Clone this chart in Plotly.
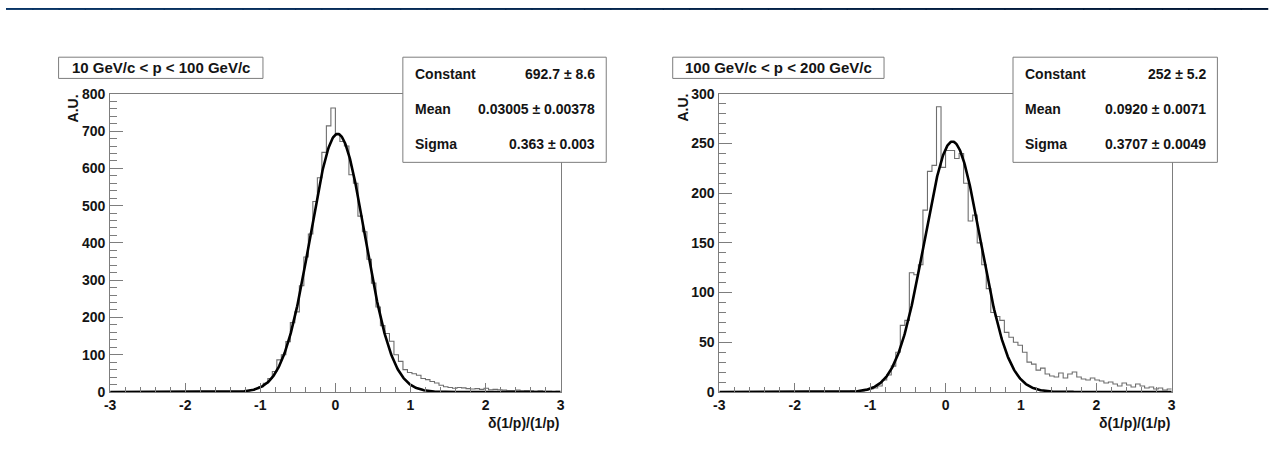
import numpy as np
import plotly.graph_objects as go

# ---------------------------------------------------------------------------
# Data: momentum-resolution histograms, 100 bins of width 0.06 on [-3, 3]
# ---------------------------------------------------------------------------
bin_edges = np.linspace(-3.0, 3.0, 101)

counts_low_p = [
    0, 0, 0, 0, 0, 0, 0, 0, 0, 0,
    0, 0, 0, 0, 0, 0, 0, 0, 0, 0,
    0, 0, 0, 0, 0, 1, 0, 1, 1, 2,
    3, 5, 9, 14, 23, 36, 55, 86, 100, 135,
    186, 215, 285, 362, 424, 511, 575, 643, 714, 762,
    690, 672, 660, 583, 560, 472, 430, 356, 292, 228,
    178, 157, 136, 100, 82, 60, 52, 49, 45, 36,
    33, 28, 24, 18, 14, 12, 10, 12, 11, 9,
    8, 9, 7, 10, 6, 7, 6, 5, 4, 4,
    5, 3, 4, 3, 2, 3, 2, 2, 1, 2,
]

counts_high_p = [
    0, 0, 0, 0, 0, 0, 0, 0, 0, 0,
    0, 0, 0, 0, 0, 0, 0, 0, 0, 0,
    0, 0, 0, 0, 0, 0, 0, 0, 0, 1,
    0, 1, 2, 3, 4, 6, 12, 17, 26, 40,
    67, 72, 120, 118, 128, 183, 222, 228, 287, 226,
    243, 243, 235, 240, 210, 172, 178, 150, 128, 104,
    80, 76, 72, 60, 55, 50, 47, 40, 30, 28,
    22, 24, 18, 16, 15, 19, 14, 18, 20, 15,
    13, 12, 14, 12, 11, 9, 10, 8, 6, 9,
    7, 5, 8, 6, 4, 5, 3, 4, 2, 3,
]

# Gaussian fit results (constant, mean, sigma) with errors
fit_low_p = {"const": 692.7, "const_err": 8.6,
             "mean": 0.03005, "mean_err": 0.00378,
             "sigma": 0.363, "sigma_err": 0.003}
fit_high_p = {"const": 252.0, "const_err": 5.2,
              "mean": 0.0920, "mean_err": 0.0071,
              "sigma": 0.3707, "sigma_err": 0.0049}

fit_text_low_p = ["692.7 ± 8.6", "0.03005 ± 0.00378", "0.363 ± 0.003"]
fit_text_high_p = ["252 ± 5.2", "0.0920 ± 0.0071", "0.3707 ± 0.0049"]
fit_names = ["Constant", "Mean", "Sigma"]

titles = ["10 GeV/c < p < 100 GeV/c", "100 GeV/c < p < 200 GeV/c"]
x_title = "δ(1/p)/(1/p)"
y_title = "A.U."

x_tick_vals = [-3, -2, -1, 0, 1, 2, 3]
x_tick_text = ["-3", "-2", "-1", "0", "1", "2", "3"]
y_ticks_low_p = [0, 100, 200, 300, 400, 500, 600, 700, 800]
y_ticks_high_p = [0, 50, 100, 150, 200, 250, 300]

# ---------------------------------------------------------------------------
# Page geometry: positions are given in page pixels; the page body keeps an
# 8 px margin around the figure, so the figure itself is 16 px smaller.
# ---------------------------------------------------------------------------
PAGE_W, PAGE_H = 1287, 469
PAD = 8
W, H = PAGE_W - 2 * PAD, PAGE_H - 2 * PAD


def fx(px):
    return (px - PAD) / W


def fy(py):
    return 1 - (py - PAD) / H


FONT = "Liberation Sans, Arial, Helvetica, sans-serif"
TXT = "#141414"
FRAME = "#7d7d7d"

panels = [
    dict(counts=counts_low_p, fit=fit_low_p, fit_text=fit_text_low_p,
         title=titles[0], yticks=y_ticks_low_p, ymax=800, yminor=20,
         frame=(113, 567), title_box=(61, 267), stats_box=(408, 613),
         ytitle_x=75),
    dict(counts=counts_high_p, fit=fit_high_p, fit_text=fit_text_high_p,
         title=titles[1], yticks=y_ticks_high_p, ymax=300, yminor=10,
         frame=(727, 1183), title_box=(680, 893), stats_box=(1023, 1229),
         ytitle_x=690),
]

FRAME_TOP, FRAME_BOTTOM = 97, 406

fig = go.Figure()
shapes = []
annotations = []

# dark blue slide band along the top, shaded left to right
n_strips = 48
c_left = np.array([8, 52, 102])
c_right = np.array([1, 22, 52])
for i in range(n_strips):
    t = i / (n_strips - 1)
    c = (1 - t) * c_left + t * c_right
    shapes.append(dict(type="rect", xref="paper", yref="paper",
                       x0=i / n_strips, x1=(i + 1) / n_strips + 0.001,
                       y0=fy(10), y1=1.0, line=dict(width=0),
                       fillcolor="rgb(%d,%d,%d)" % tuple(c.astype(int)),
                       layer="above"))

xc = np.linspace(-3.0, 3.0, 801)

for k, p in enumerate(panels, start=1):
    xa = "x" if k == 1 else "x%d" % k
    ya = "y" if k == 1 else "y%d" % k
    xname = "xaxis" if k == 1 else "xaxis%d" % k
    yname = "yaxis" if k == 1 else "yaxis%d" % k

    counts = list(p["counts"])
    # step outline of the histogram
    fig.add_trace(go.Scatter(
        x=bin_edges, y=counts + [counts[-1]], mode="lines",
        line=dict(color="#6e6e6e", width=1.1, shape="hv"),
        xaxis=xa, yaxis=ya, showlegend=False, hoverinfo="skip"))

    f = p["fit"]
    yc = f["const"] * np.exp(-0.5 * ((xc - f["mean"]) / f["sigma"]) ** 2)
    fig.add_trace(go.Scatter(
        x=xc, y=yc, mode="lines", line=dict(color="#000000", width=2.6),
        xaxis=xa, yaxis=ya, showlegend=False, hoverinfo="skip"))

    x0, x1 = p["frame"]
    fig.layout[xname] = dict(
        domain=[fx(x0), fx(x1)], range=[-3, 3], anchor=ya,
        showgrid=False, zeroline=False, showline=True, mirror=True,
        linecolor=FRAME, linewidth=1,
        ticks="inside", ticklen=9, tickwidth=1, tickcolor=FRAME,
        tickmode="array", tickvals=x_tick_vals, ticktext=x_tick_text,
        tickfont=dict(family=FONT, size=14, color=TXT, weight="bold"),
        minor=dict(ticks="inside", ticklen=5, tickcolor=FRAME, tickwidth=1,
                   tickmode="array",
                   tickvals=[round(-3 + 0.2 * i, 2) for i in range(31)],
                   showgrid=False),
        fixedrange=True,
    )
    fig.layout[yname] = dict(
        domain=[fy(FRAME_BOTTOM), fy(FRAME_TOP)], range=[0, p["ymax"]],
        anchor=xa, showgrid=False, zeroline=False, showline=True,
        mirror=True, linecolor=FRAME, linewidth=1,
        ticks="inside", ticklen=13, tickwidth=1, tickcolor=FRAME,
        tickmode="array", tickvals=p["yticks"],
        ticktext=[str(v) for v in p["yticks"]],
        tickfont=dict(family=FONT, size=14, color=TXT, weight="bold"),
        ticklabelstandoff=1,
        minor=dict(ticks="inside", ticklen=7, tickcolor=FRAME, tickwidth=1,
                   tickmode="array",
                   tickvals=list(range(0, p["ymax"] + 1, p["yminor"])),
                   showgrid=False),
        fixedrange=True,
    )

    # title box
    tb0, tb1 = p["title_box"]
    shapes.append(dict(type="rect", xref="paper", yref="paper",
                       x0=fx(tb0), x1=fx(tb1), y0=fy(81), y1=fy(59),
                       line=dict(color=FRAME, width=1), fillcolor="white",
                       layer="above"))
    annotations.append(dict(xref="paper", yref="paper",
                            x=fx((tb0 + tb1) / 2), y=fy(70), text=p["title"],
                            showarrow=False, xanchor="center", yanchor="middle",
                            font=dict(family=FONT, size=15, color=TXT,
                                      weight="bold")))

    # fit statistics box
    sb0, sb1 = p["stats_box"]
    shapes.append(dict(type="rect", xref="paper", yref="paper",
                       x0=fx(sb0), x1=fx(sb1), y0=fy(168), y1=fy(59),
                       line=dict(color=FRAME, width=1), fillcolor="white",
                       layer="above"))
    for name, val, row_y in zip(fit_names, p["fit_text"], [76, 113, 149]):
        annotations.append(dict(xref="paper", yref="paper",
                                x=fx(sb0 + 10), y=fy(row_y), text=name,
                                showarrow=False, xanchor="left",
                                yanchor="middle",
                                font=dict(family=FONT, size=14, color=TXT,
                                          weight="bold")))
        annotations.append(dict(xref="paper", yref="paper",
                                x=fx(sb1 - 9), y=fy(row_y), text=val,
                                showarrow=False, xanchor="right",
                                yanchor="middle",
                                font=dict(family=FONT, size=14, color=TXT,
                                          weight="bold")))

    # axis titles
    annotations.append(dict(xref="paper", yref="paper",
                            x=fx(p["ytitle_x"]), y=fy(FRAME_TOP - 2),
                            text=y_title, showarrow=False, textangle=-90,
                            xanchor="center", yanchor="top",
                            font=dict(family=FONT, size=14, color=TXT,
                                      weight="bold")))
    annotations.append(dict(xref="paper", yref="paper",
                            x=fx(x1), y=fy(438), text=x_title,
                            showarrow=False, xanchor="right", yanchor="middle",
                            font=dict(family=FONT, size=14, color=TXT,
                                      weight="bold")))

fig.update_layout(
    width=W, height=H,
    margin=dict(l=0, r=0, t=0, b=0),
    paper_bgcolor="white", plot_bgcolor="white",
    shapes=shapes, annotations=annotations,
    showlegend=False,
)

fig.write_html("out.html", include_plotlyjs=True, full_html=True,
               config={"displayModeBar": False})
